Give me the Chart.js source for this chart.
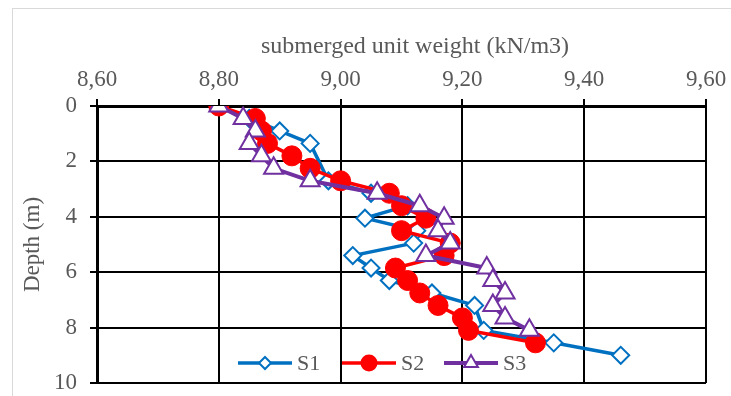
<!DOCTYPE html>
<html>
<head>
<meta charset="utf-8">
<script src="https://cdn.jsdelivr.net/npm/chart.js@4/dist/chart.umd.min.js"></script>
<style>
  html, body { margin: 0; padding: 0; background: #fff; }
  #chart { display: block; }
  #fontprobe { position: absolute; left: -9999px; top: 0; font-family: "Liberation Serif"; font-size: 23px; }
</style>
</head>
<body>
<canvas id="chart" width="731" height="396"></canvas>
<span id="fontprobe">submerged 8,60 S1</span>
<script>
// data (depth in m, submerged unit weight in kN/m3)
const seriesNames = ["S1", "S2", "S3"];

const depthS1 = [0, 0.45, 0.9, 1.35, 2.7, 3.15, 3.6, 4.05, 4.5, 4.95, 5.4, 5.85, 6.3, 6.75, 7.2, 8.1, 8.55, 9.0];
const weightS1 = [8.80, 8.85, 8.90, 8.95, 8.98, 9.05, 9.11, 9.04, 9.125, 9.12, 9.02, 9.05, 9.08, 9.15, 9.22, 9.235, 9.35, 9.46];

const depthS2 = [0, 0.45, 0.9, 1.35, 1.8, 2.25, 2.7, 3.15, 3.6, 4.05, 4.5, 4.95, 5.4, 5.85, 6.3, 6.75, 7.2, 7.65, 8.1, 8.55];
const weightS2 = [8.80, 8.86, 8.87, 8.88, 8.92, 8.95, 9.00, 9.08, 9.10, 9.14, 9.10, 9.18, 9.17, 9.09, 9.11, 9.13, 9.16, 9.20, 9.21, 9.32];

const depthS3 = [0, 0.45, 0.9, 1.35, 1.8, 2.25, 2.7, 3.15, 3.6, 4.05, 4.5, 4.95, 5.4, 5.85, 6.3, 6.75, 7.2, 7.65, 8.1];
const weightS3 = [8.80, 8.84, 8.86, 8.85, 8.87, 8.89, 8.95, 9.06, 9.13, 9.17, 9.16, 9.18, 9.14, 9.24, 9.25, 9.27, 9.25, 9.27, 9.31];

const xTicks = [8.6, 8.8, 9.0, 9.2, 9.4, 9.6];
const yTicks = [0, 2, 4, 6, 8, 10];

const xTitle = "submerged unit weight (kN/m3)";
const yTitle = "Depth (m)";

const FONT = '"Liberation Serif", "DejaVu Serif", serif';
const TEXT = "#595959";

function pts(xs, ys) {
    return xs.map((v, i) => ({ x: v, y: ys[i] }));
}

// 🎨 frame, top title and the in-plot legend
const decor = {
    id: "decor",
    beforeDraw(chart) {
        const c = chart.ctx;
        c.save();
        c.fillStyle = "#fff";
        c.fillRect(0, 0, chart.width, chart.height);
        c.strokeStyle = "#d9d9d9";
        c.lineWidth = 1;
        c.strokeRect(12.5, 8.5, chart.width, chart.height);
        c.restore();
    },
    afterDraw(chart) {
        const c = chart.ctx;
        c.save();
        c.fillStyle = TEXT;
        c.font = "24px " + FONT;
        c.textAlign = "center";
        c.textBaseline = "middle";
        c.fillText(xTitle, 415, 47);

        // legend
        const startX = [238, 342, 444];
        const ly = 363;
        chart.data.datasets.forEach((ds, i) => {
            const x0 = startX[i], x1 = x0 + 54, mx = (x0 + x1) / 2;
            c.strokeStyle = ds.borderColor;
            c.lineWidth = ds.borderWidth;
            c.beginPath();
            c.moveTo(x0, ly);
            c.lineTo(x1, ly);
            c.stroke();

            c.lineWidth = 2;
            c.fillStyle = ds.pointBackgroundColor;
            c.strokeStyle = ds.pointBorderColor;
            c.beginPath();
            if (ds.pointStyle === "rectRot") {
                const r = 6;
                c.moveTo(mx, ly - r); c.lineTo(mx + r, ly); c.lineTo(mx, ly + r); c.lineTo(mx - r, ly); c.closePath();
            } else if (ds.pointStyle === "triangle") {
                const r = 8;
                c.moveTo(mx, ly - r);
                c.lineTo(mx + r * 0.866, ly + r / 2);
                c.lineTo(mx - r * 0.866, ly + r / 2);
                c.closePath();
            } else {
                c.arc(mx, ly, 7.5, 0, Math.PI * 2);
            }
            c.fill();
            c.stroke();

            c.fillStyle = TEXT;
            c.font = "22px " + FONT;
            c.textAlign = "left";
            c.textBaseline = "middle";
            c.fillText(ds.label, x1 + 5, ly + 1);
        });
        c.restore();
    }
};

function drawChart() {
    new Chart(document.getElementById("chart"), {
        type: "line",
        data: {
            datasets: [
                {
                    label: seriesNames[0],
                    data: pts(weightS1, depthS1),
                    borderColor: "#0070C0",
                    borderWidth: 3.5,
                    pointStyle: "rectRot",
                    pointRadius: 8.5,
                    pointBorderWidth: 2,
                    pointBorderColor: "#0070C0",
                    pointBackgroundColor: "#fff",
                    order: 3
                },
                {
                    label: seriesNames[1],
                    data: pts(weightS2, depthS2),
                    borderColor: "#FF0000",
                    borderWidth: 3.5,
                    pointStyle: "circle",
                    pointRadius: 10,
                    pointBorderWidth: 1,
                    pointBorderColor: "#FF0000",
                    pointBackgroundColor: "#FF0000",
                    order: 2
                },
                {
                    label: seriesNames[2],
                    data: pts(weightS3, depthS3),
                    borderColor: "#7030A0",
                    borderWidth: 4,
                    pointStyle: "triangle",
                    pointRadius: 11,
                    pointBorderWidth: 2,
                    pointBorderColor: "#7030A0",
                    pointBackgroundColor: "#fff",
                    order: 1
                }
            ]
        },
        options: {
            responsive: false,
            animation: false,
            devicePixelRatio: 1,
            layout: { padding: { left: 0, top: 0, right: 25, bottom: 13 } },
            plugins: { legend: { display: false }, tooltip: { enabled: false } },
            scales: {
                x: {
                    type: "linear",
                    position: "top",
                    min: 8.6,
                    max: 9.6,
                    afterBuildTicks: s => { s.ticks = xTicks.map(v => ({ value: v })); },
                    afterFit: s => { s.height = 106; s.paddingLeft = 0; s.paddingRight = 0; },
                    ticks: {
                        color: TEXT,
                        font: { family: FONT, size: 23 },
                        padding: 5,
                        maxRotation: 0,
                        callback: v => v.toFixed(2).replace(".", ",")
                    },
                    grid: { color: "#000", lineWidth: 2, tickLength: 7, tickColor: "#000", tickWidth: 2 },
                    border: { color: "#000", width: 3 }
                },
                y: {
                    type: "linear",
                    reverse: true,
                    min: 0,
                    max: 10,
                    afterBuildTicks: s => { s.ticks = yTicks.map(v => ({ value: v })); },
                    afterFit: s => { s.width = 97; s.paddingTop = 0; s.paddingBottom = 0; },
                    title: {
                        display: true,
                        text: yTitle,
                        color: TEXT,
                        font: { family: FONT, size: 23 },
                        padding: { top: 19, bottom: 0 }
                    },
                    ticks: {
                        color: TEXT,
                        font: { family: FONT, size: 23 },
                        padding: 13
                    },
                    grid: { color: "#000", lineWidth: 2, tickLength: 7, tickColor: "#000", tickWidth: 2 },
                    border: { color: "#000", width: 3 }
                }
            }
        },
        plugins: [decor]
    });
}

if (document.fonts && document.fonts.load) {
    document.fonts.load('23px "Liberation Serif"').then(drawChart, drawChart);
} else {
    drawChart();
}
</script>
</body>
</html>
